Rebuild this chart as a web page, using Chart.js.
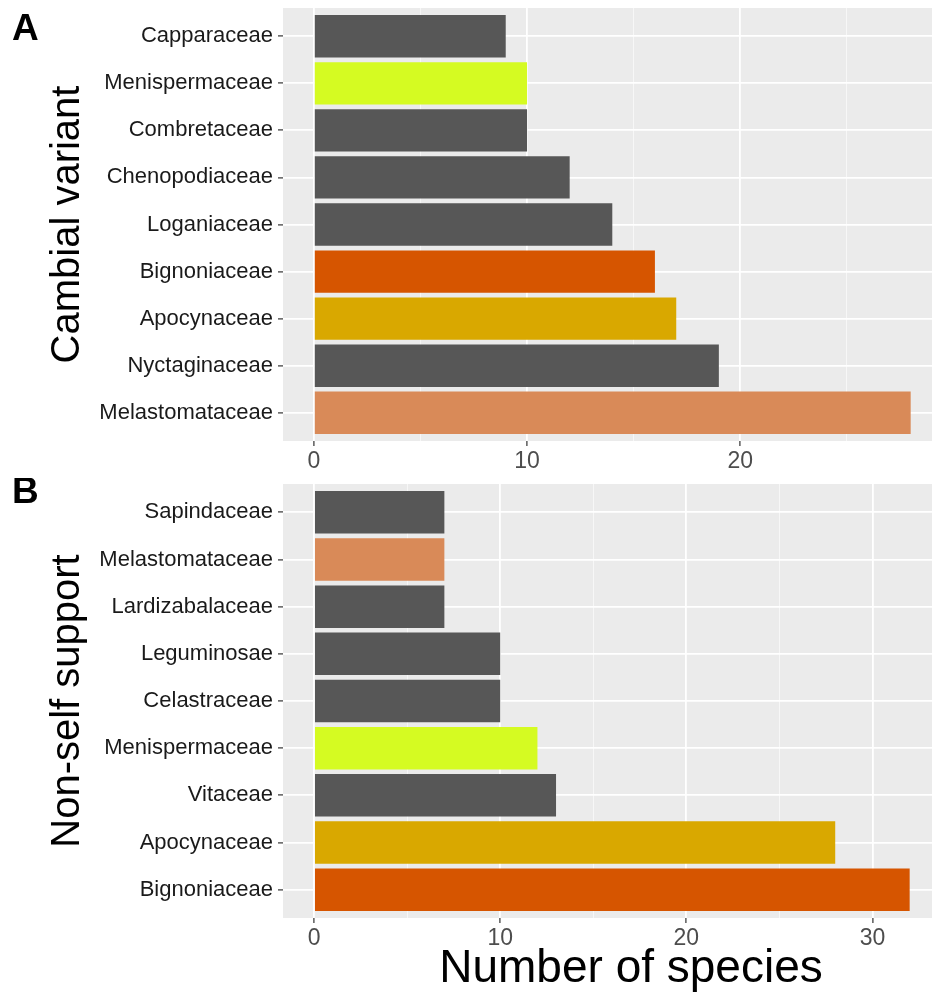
<!DOCTYPE html>
<html>
<head>
<meta charset="utf-8">
<script src="https://cdn.jsdelivr.net/npm/chart.js@4.4.0/dist/chart.umd.min.js"></script>
<style>
  body { margin: 0; background: #fff; }
  #wrap { position: relative; width: 932px; height: 993px; }
  canvas { position: absolute; left: 0; }
  #chartA { top: 0; }
  #chartB { top: 478px; }
</style>
</head>
<body>
<div id="wrap">
  <canvas id="chartA" width="932" height="478"></canvas>
  <canvas id="chartB" width="932" height="515"></canvas>
</div>
<script>
// Panel A - cambial variant (top to bottom)
const familiesA = ['Capparaceae', 'Menispermaceae', 'Combretaceae', 'Chenopodiaceae', 'Loganiaceae',
                   'Bignoniaceae', 'Apocynaceae', 'Nyctaginaceae', 'Melastomataceae'];
const speciesA = [9, 10, 10, 12, 14, 16, 17, 19, 28];
const ticksA = [0, 10, 20];

// Panel B - non-self support (top to bottom)
const familiesB = ['Sapindaceae', 'Melastomataceae', 'Lardizabalaceae', 'Leguminosae', 'Celastraceae',
                   'Menispermaceae', 'Vitaceae', 'Apocynaceae', 'Bignoniaceae'];
const speciesB = [7, 7, 7, 10, 10, 12, 13, 28, 32];
const ticksB = [0, 10, 20, 30];

// highlighted families, everything else is grey
const familyColours = {
  Menispermaceae: '#d5fb22',
  Bignoniaceae: '#d65500',
  Apocynaceae: '#d9a800',
  Melastomataceae: '#d98a58'
};
const otherColour = '#575757';

const FONT = "'Liberation Sans', Arial, sans-serif";

// grey ggplot panel behind the bars + extra text (panel letter, x title)
const panelPlugin = {
  id: 'panel',
  beforeDraw(chart) {
    const a = chart.chartArea, ctx = chart.ctx;
    ctx.save();
    ctx.fillStyle = '#ebebeb';
    ctx.fillRect(a.left, a.top, a.right - a.left, a.bottom - a.top);
    ctx.restore();
  },
  afterDraw(chart, args, opts) {
    const ctx = chart.ctx;
    ctx.save();
    ctx.fillStyle = '#000';
    ctx.textBaseline = 'alphabetic';
    (opts.texts || []).forEach(t => {
      ctx.font = t.font;
      ctx.textAlign = t.align || 'left';
      ctx.fillText(t.text, t.x, t.y);
    });
    ctx.restore();
  }
};

function makePanel(id, families, values, majorTicks, xMin, xMax, topPad, xHeight, yTitle, texts) {
  const minor = [];
  for (let v = 0; v <= xMax; v += 5) minor.push(v);
  const isMajor = c => majorTicks.includes(c.tick && c.tick.value);
  new Chart(document.getElementById(id), {
    type: 'bar',
    data: {
      datasets: [{
        data: values.map((v, i) => ({ x: v, y: i + 1 })),
        backgroundColor: families.map(f => familyColours[f] || otherColour),
        borderWidth: 0,
        barPercentage: 0.9,
        categoryPercentage: 1
      }]
    },
    options: {
      indexAxis: 'y',
      responsive: false,
      animation: false,
      layout: { padding: { top: topPad, left: 0, right: 0, bottom: 0 } },
      plugins: {
        legend: { display: false },
        tooltip: { enabled: false },
        panel: { texts: texts }
      },
      scales: {
        x: {
          type: 'linear',
          min: xMin,
          max: xMax,
          afterBuildTicks: s => { s.ticks = minor.map(v => ({ value: v })); },
          afterFit: s => { s.height = xHeight; s.paddingLeft = 0; s.paddingRight = 0; },
          border: { display: false },
          grid: {
            color: c => isMajor(c) ? '#ffffff' : 'rgba(255,255,255,0.6)',
            lineWidth: c => isMajor(c) ? 1.8 : 1,
            tickColor: c => isMajor(c) ? '#333333' : 'rgba(0,0,0,0)',
            tickLength: 5,
            tickWidth: 1.2
          },
          ticks: {
            callback: v => majorTicks.includes(v) ? String(v) : '',
            color: '#4d4d4d',
            font: { family: FONT, size: 23 },
            padding: 2,
            maxRotation: 0,
            autoSkip: false
          }
        },
        y: {
          type: 'linear',
          min: 0.4,
          max: families.length + 0.6,
          reverse: true,
          offset: false,
          afterBuildTicks: s => { s.ticks = families.map((f, i) => ({ value: i + 1 })); },
          afterFit: s => { s.width = 283; s.paddingTop = 0; s.paddingBottom = 0; },
          border: { display: false },
          grid: { offset: false, color: '#ffffff', lineWidth: 1.8, tickColor: '#333333', tickLength: 5, tickWidth: 1.2 },
          ticks: {
            callback: v => families[v - 1],
            color: '#1a1a1a',
            font: { family: FONT, size: 22 },
            padding: 5,
            autoSkip: false
          },
          title: {
            display: true,
            text: yTitle,
            color: '#000',
            font: { family: FONT, size: 40 },
            padding: { top: 44, bottom: 0 }
          }
        }
      }
    },
    plugins: [panelPlugin]
  });
}

makePanel('chartA', familiesA, speciesA, ticksA, -1.45, 29.0, 8, 37, 'Cambial variant', [
  { text: 'A', x: 12, y: 40, font: 'bold 37px ' + FONT }
]);

makePanel('chartB', familiesB, speciesB, ticksB, -1.67, 33.2, 6, 75, 'Non-self support', [
  { text: 'B', x: 12, y: 25, font: 'bold 37px ' + FONT },
  { text: 'Number of species', x: 631, y: 504, align: 'center', font: '46px ' + FONT }
]);
</script>
</body>
</html>
